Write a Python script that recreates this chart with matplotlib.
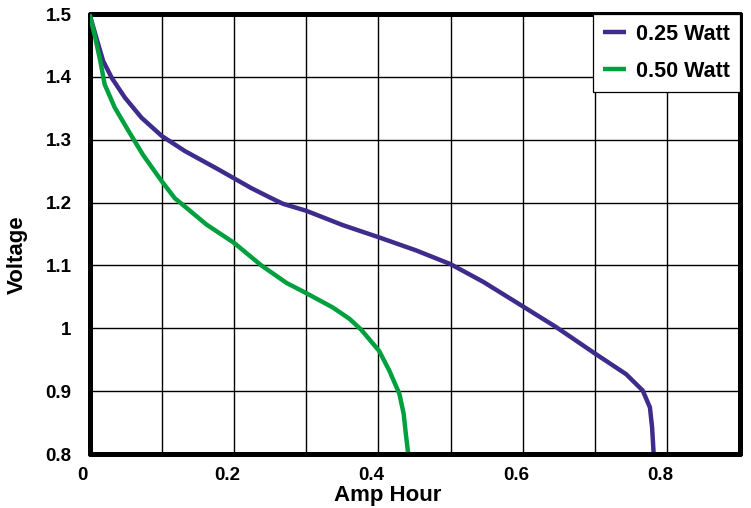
import matplotlib
matplotlib.use("Agg")
import matplotlib.pyplot as plt
import matplotlib.transforms as mtransforms
from matplotlib.ticker import FuncFormatter, MultipleLocator

plt.rcParams['font.family'] = ['Liberation Sans', 'DejaVu Sans']
plt.rcParams['font.weight'] = 'bold'

# discharge curves
ah_025 = [0, 0.012, 0.019, 0.031, 0.049, 0.072, 0.1, 0.132, 0.178, 0.224,
          0.25, 0.268, 0.3, 0.351, 0.4, 0.452, 0.5, 0.545, 0.59, 0.646,
          0.701, 0.743, 0.766, 0.776, 0.779, 0.781]
v_025 = [1.5, 1.452, 1.425, 1.398, 1.367, 1.335, 1.306, 1.282, 1.253, 1.223,
         1.208, 1.198, 1.187, 1.164, 1.145, 1.124, 1.102, 1.074, 1.042, 1.002,
         0.959, 0.927, 0.901, 0.874, 0.842, 0.803]

ah_050 = [0, 0.008, 0.015, 0.021, 0.035, 0.054, 0.074, 0.1, 0.118, 0.137,
          0.162, 0.2, 0.238, 0.273, 0.3, 0.337, 0.36, 0.376, 0.401,
          0.415, 0.429, 0.435, 0.438, 0.441]
v_050 = [1.5, 1.462, 1.425, 1.388, 1.351, 1.314, 1.276, 1.234, 1.207, 1.189,
         1.165, 1.136, 1.1, 1.072, 1.056, 1.033, 1.015, 0.998, 0.964,
         0.933, 0.896, 0.864, 0.832, 0.803]

labels = ['0.25 Watt', '0.50 Watt']
colors = ['#3f2b8c', '#00a03e']

fig = plt.figure(figsize=(7.51, 5.08), dpi=100)
ax = fig.add_axes([89.5 / 751, 54 / 508, 650 / 751, 440 / 508])

ax.plot(ah_025, v_025, color=colors[0], lw=3.2, label=labels[0], solid_capstyle='butt', zorder=3)
ax.plot(ah_050, v_050, color=colors[1], lw=3.2, label=labels[1], solid_capstyle='butt', zorder=3)

ax.set_xlim(0, 0.9)
ax.set_ylim(0.8, 1.5)
ax.xaxis.set_major_locator(MultipleLocator(0.2))
ax.xaxis.set_minor_locator(MultipleLocator(0.1))
ax.yaxis.set_major_locator(MultipleLocator(0.1))
ax.xaxis.set_major_formatter(FuncFormatter(lambda v, p: '%g' % round(v, 2)))
ax.yaxis.set_major_formatter(FuncFormatter(lambda v, p: '%g' % round(v, 2)))
ax.grid(True, which='both', color='black', lw=1.0)
ax.set_axisbelow(True)

ax.tick_params(which='both', length=0, labelsize=13.5)
ax.tick_params(axis='x', pad=9)
ax.tick_params(axis='y', pad=13)
shift = mtransforms.ScaledTranslation(-7 / 100, 0, fig.dpi_scale_trans)
for t in ax.get_xticklabels():
    t.set_transform(t.get_transform() + shift)

for s in ax.spines.values():
    s.set_linewidth(3.6)
    s.set_capstyle('round')

ax.set_xlabel('Amp Hour', fontsize=16, fontweight='bold')
ax.xaxis.label.set_verticalalignment('center')
ax.xaxis.set_label_coords((388 - 89.5) / 650, -(495 - 454) / 440)
ax.set_ylabel('Voltage', fontsize=16, fontweight='bold')
ax.yaxis.label.set_verticalalignment('center')
ax.yaxis.set_label_coords(-(89.5 - 17) / 650, (454 - 255) / 440)

leg = ax.legend(loc='upper right', bbox_to_anchor=(1, 1), borderaxespad=0,
                fontsize=15.5, handlelength=1.1, handletextpad=0.45,
                labelspacing=0.75, borderpad=0.45, fancybox=False,
                framealpha=1, edgecolor='black')
leg.get_frame().set_linewidth(0.9)
for t in leg.get_texts():
    t.set_fontweight('bold')

fig.savefig('out.png', dpi=100)
